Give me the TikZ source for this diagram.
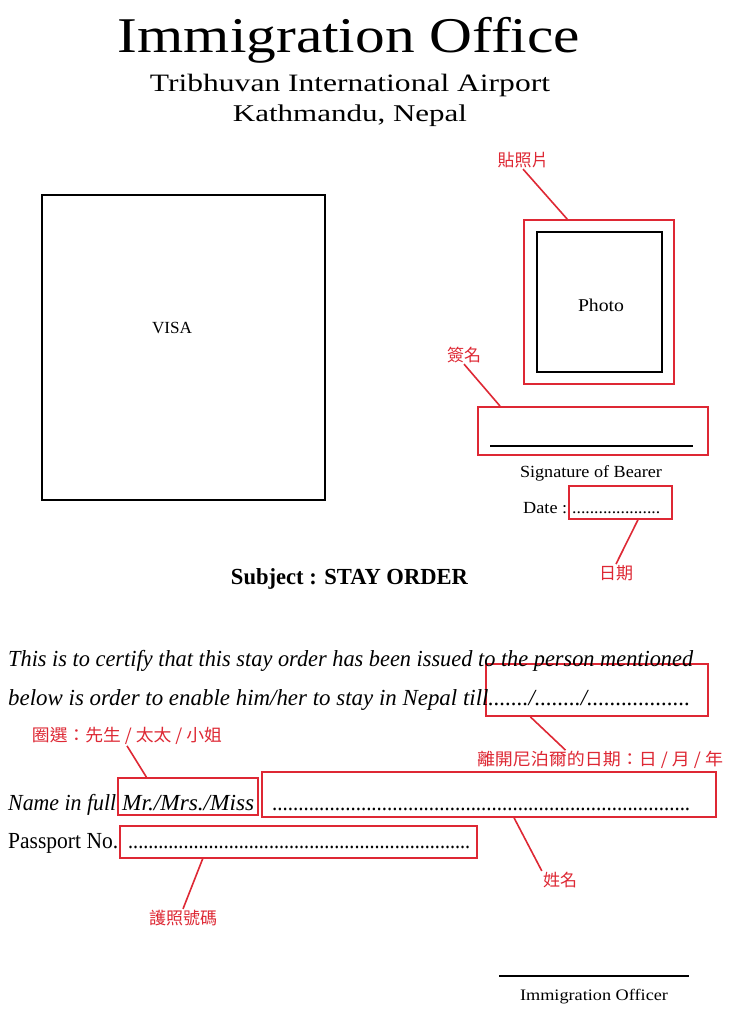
\documentclass[tikz,border=0pt]{standalone}
\usepackage{fontspec}
\usepackage{graphicx}
\setmainfont{Liberation Serif}
\newfontfamily\cjk{Noto Sans CJK TC}
\usetikzlibrary{positioning}
\definecolor{marca}{RGB}{222,40,52}
\newcommand{\ancho}[2]{\resizebox{#1pt}{\height}{#2}}

\tikzset{
  caja/.style={draw=marca, line width=1.8pt, inner sep=0pt},
  marco/.style={draw=black, line width=1.5pt, inner sep=0pt},
  nota/.style={text=marca, font=\cjk\fontsize{17}{17}\selectfont, inner sep=1pt},
  guia/.style={draw=marca, line width=1.6pt},
  texto/.style={inner sep=0pt, font=\fontsize{17}{17}\selectfont},
  cuerpo/.style={inner sep=0pt, anchor=base west, font=\fontsize{23}{23}\selectfont}
}

\begin{document}
\begin{tikzpicture}[x=1pt,y=-1pt]
            \useasboundingbox[fill=white] (0,0) rectangle (732,1024);

            % Encabezado
            \node[texto, anchor=base, font=\fontsize{50}{50}\selectfont] (titulo) at (349,53) {\ancho{462}{Immigration Office}};
            \node[texto, anchor=base, font=\fontsize{25}{25}\selectfont] (aeropuerto) at (350,92) {\ancho{400}{Tribhuvan International Airport}};
            \node[texto, anchor=base, font=\fontsize{24}{24}\selectfont] (ciudad) at (350,122) {\ancho{234}{Kathmandu, Nepal}};

            % Cajas
            \node[marco, minimum width=283, minimum height=305] (visa) at (183.5,347.5) {};
            \node[caja, minimum width=150, minimum height=164] (boxPhoto) at (599,302) {};
            \node[marco, minimum width=125, minimum height=140] (photoIn) at (599.5,302) {};
            \node[caja, minimum width=230, minimum height=48] (boxSign) at (593,431) {};
            \node[caja, minimum width=103, minimum height=33] (boxDate) at (620.5,502.5) {};
            \node[caja, minimum width=222, minimum height=52] (boxTill) at (597,690) {};
            \node[caja, minimum width=140, minimum height=37] (boxTitle) at (188,796.5) {};
            \node[caja, minimum width=454, minimum height=45] (boxName) at (489,794.5) {};
            \node[caja, minimum width=357, minimum height=32] (boxPass) at (298.5,842) {};

            % Textos
            \node[texto, anchor=base] (visaTxt) at (172,333) {\ancho{40}{VISA}};
            \node[texto, anchor=base, font=\fontsize{18}{18}\selectfont] (photoTxt) at (601,311) {\ancho{46}{Photo}};
            \draw[line width=1.3pt] (490,446) -- (693,446);
            \node[texto, anchor=base] (firma) at (591,477) {\ancho{142}{Signature of Bearer}};
            \node[texto, anchor=base west] (fecha) at (523,513) {\ancho{44}{Date :}};
            \node[texto, anchor=base west] (fechaPts) at (572,513) {\ancho{88}{....................}};
            \node[texto, anchor=base, font=\fontsize{23}{23}\selectfont\bfseries] (asunto) at (349.5,584) {\ancho{237}{Subject : STAY ORDER}};
            \node[cuerpo] (linea1) at (8,666) {\ancho{685}{\itshape This is to certify that this stay order has been issued to the person mentioned}};
            \node[cuerpo] (linea2) at (8,705) {\ancho{682}{\itshape below is order to enable him/her to stay in Nepal till......./......../..................}};
            \node[cuerpo] (nombre) at (8,810) {\ancho{108}{\itshape Name in full}};
            \node[cuerpo] (trato) at (122,810) {\ancho{132}{\itshape Mr./Mrs./Miss}};
            \node[cuerpo] (nombrePts) at (272,810) {\ancho{418}{................................................................................}};
            \node[cuerpo] (pasaporte) at (8,848) {\ancho{110}{Passport No.}};
            \node[cuerpo] (pasaportePts) at (128,848) {\ancho{342}{....................................................................}};
            \draw[line width=1.3pt] (499,976) -- (689,976);
            \node[texto, anchor=base, font=\fontsize{16}{16}\selectfont] (oficial) at (594,1000) {\ancho{148}{Immigration Officer}};

            % Notas
            \node[nota] (lblPhoto) at (523,160) {貼照片};
            \node[nota] (lblSign) at (464,355) {簽名};
            \node[nota] (lblDate) at (616,573) {日期};
            \node[nota] (lblTill) at (600,760) {\ancho{246}{離開尼泊爾的日期：日 / 月 / 年}};
            \node[nota] (lblTitle) at (127,736) {\ancho{190}{圈選：先生 / 太太 / 小姐}};
            \node[nota] (lblName) at (560,880) {姓名};
            \node[nota] (lblPass) at (183,918) {護照號碼};

            % Guias
            \draw[guia] (lblPhoto.south) -- (boxPhoto.111);
            \draw[guia] (lblSign.south) -- (boxSign.165);
            \draw[guia] (boxDate.-45) -- (lblDate.north);
            \draw[guia] (boxTill.202) -- (lblTill.164);
            \draw[guia] (lblTitle.south) -- (boxTitle.155);
            \draw[guia] (boxName.-43) -- (lblName.north west);
            \draw[guia] (boxPass.190) -- (lblPass.north);
\end{tikzpicture}
\end{document}
